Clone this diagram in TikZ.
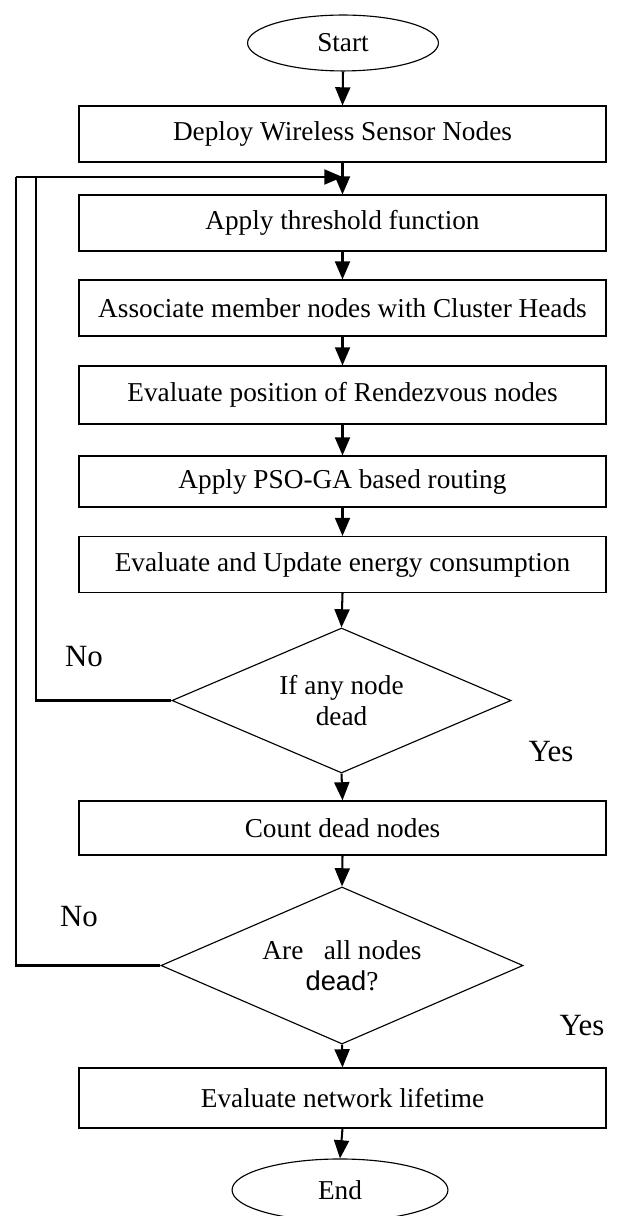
\documentclass[tikz,border=0pt]{standalone}
\usepackage{fontspec}
\setmainfont{Liberation Serif}
\newfontfamily\arialfont{Liberation Sans}
\usetikzlibrary{arrows.meta,shapes.geometric}

\tikzset{
  flowbox/.style={draw,line width=0.5pt,minimum width=231.9pt,minimum height=24.6pt,inner sep=0pt},
  termin/.style={draw,ellipse,line width=0.5pt,inner sep=0pt},
  decide/.style={draw,diamond,aspect=2.33,line width=0.5pt,inner sep=0pt,align=center,font=\fontsize{12}{13.6}\selectfont},
  flowarrow/.style={line width=0.9pt,-{Triangle[length=8pt,width=6.6pt]}},
  backline/.style={line width=0.9pt},
  answer/.style={font=\fontsize{13.6}{15}\selectfont}
}

\begin{document}
\begin{tikzpicture}[x=0.44pt,y=-0.44pt,every node/.style={font=\fontsize{12}{13.6}\selectfont}]
  \useasboundingbox (0,0) rectangle (619,1216);
  \node[termin,minimum width=84pt,minimum height=24.6pt] (start) at (343,43) {Start};
  \node[flowbox] (deploy) at (342.5,134) {Deploy Wireless Sensor Nodes};
  \node[flowbox] (thresh) at (342.5,223) {Apply threshold function};
  \node[flowbox] (assoc) at (342.5,308) {Associate member nodes with Cluster Heads};
  \node[flowbox,minimum height=25.5pt] (rendez) at (342.5,395) {Evaluate position of Rendezvous nodes};
  \node[flowbox,minimum height=22.4pt] (psoga) at (342.5,481.5) {Apply PSO-GA based routing};
  \node[flowbox] (energy) at (342.5,564.5) {Evaluate and Update energy consumption};
  \node[decide,minimum width=149.2pt,minimum height=63.8pt] (anydead) at (341.5,700.5) {If any node\\dead};
  \node[flowbox,minimum height=23.8pt] (count) at (342.5,828) {Count dead nodes};
  \node[decide,minimum width=159.3pt,minimum height=69.1pt] (alldead) at (342,965.5) {Are\ \ \ all nodes\\{\arialfont dead}?};
  \node[flowbox,minimum height=26.4pt] (life) at (342.5,1098) {Evaluate network lifetime};
  \node[termin,minimum width=95pt,minimum height=27.3pt] (end) at (340,1190) {End};

  \foreach \a/\b in {start/deploy,deploy/thresh,thresh/assoc,assoc/rendez,rendez/psoga,
                     psoga/energy,energy/anydead,anydead/count,count/alldead,alldead/life,life/end}
    \draw[flowarrow] (\a.south) -- (\b.north);

  % loops back to the threshold step
  \coordinate (back) at (342.5,177);
  \coordinate (inner) at (36,177);
  \coordinate (outer) at (16,177);
  \draw[backline] (anydead.west) -| (inner);
  \draw[backline] (alldead.west) -| (outer);
  \draw[flowarrow] (outer) -- (back);

  \node[answer] (no1) at (84,657) {No};
  \node[answer] (yes1) at (551,752) {Yes};
  \node[answer] (no2) at (79,917) {No};
  \node[answer] (yes2) at (582,1026) {Yes};
\end{tikzpicture}
\end{document}
